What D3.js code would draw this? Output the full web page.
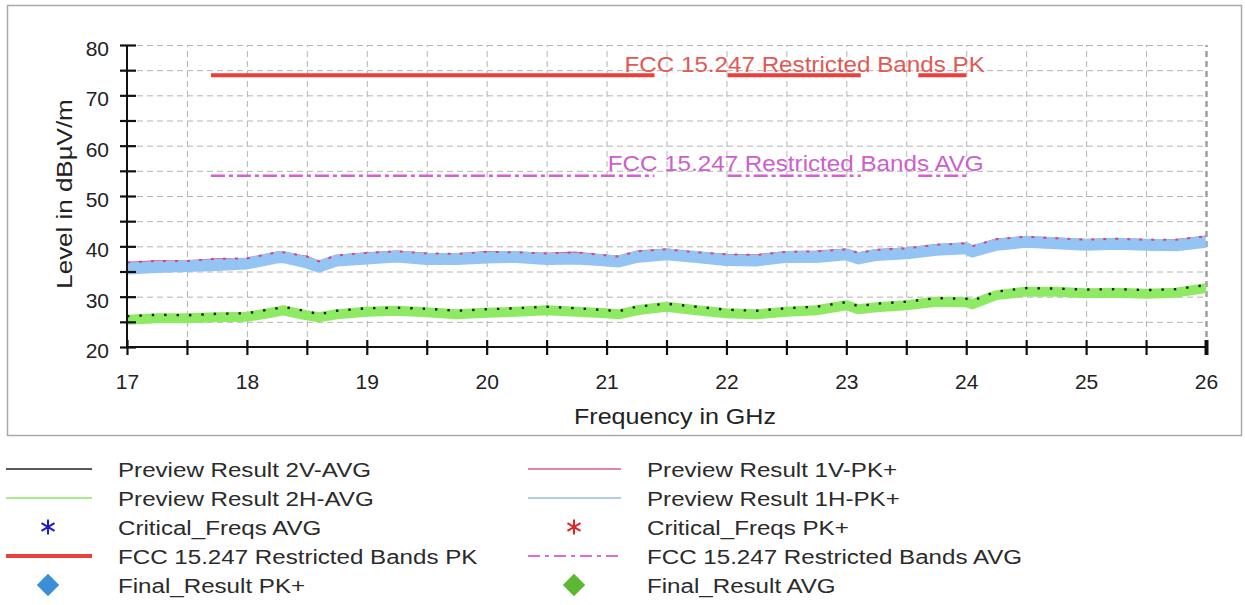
<!DOCTYPE html>
<html>
<head>
<meta charset="utf-8">
<script src="https://cdn.jsdelivr.net/npm/d3@7.9.0/dist/d3.min.js"></script>
<style>
  html, body { margin: 0; padding: 0; background: #fff; }
  svg { display: block; font-family: "Liberation Sans", Arial, sans-serif; }
</style>
</head>
<body>
<svg id="chart" width="1245" height="605"></svg>
<script>
const freqs = [17.0, 17.25, 17.5, 17.75, 18.0, 18.25, 18.3, 18.5, 18.6, 18.75,
  19.0, 19.25, 19.5, 19.75, 20.0, 20.25, 20.5, 20.75, 21.0, 21.1,
  21.25, 21.5, 21.75, 22.0, 22.25, 22.5, 22.75, 23.0, 23.1, 23.25,
  23.5, 23.75, 24.0, 24.05, 24.25, 24.5, 24.75, 25.0, 25.25, 25.5,
  25.75, 26.0];

// Preview Result 1H-PK+ (blue band)
const pk1H = [35.6, 35.9, 36.1, 36.3, 36.6, 37.8, 37.9, 36.8, 36.0, 37.2,
  37.6, 38.0, 37.5, 37.5, 37.8, 37.9, 37.5, 37.6, 37.2, 37.0,
  37.9, 38.4, 37.9, 37.3, 37.2, 37.9, 37.9, 38.4, 37.6, 38.3,
  38.6, 39.3, 39.6, 39.0, 40.3, 40.9, 40.6, 40.3, 40.5, 40.3,
  40.2, 40.9];

// Preview Result 1V-PK+ (pink)
const pk1V = [36.8, 37.1, 37.1, 37.5, 37.6, 38.8, 38.8, 38.0, 37.0, 38.2,
  38.7, 39.0, 38.6, 38.5, 38.9, 38.8, 38.6, 38.8, 38.2, 38.0,
  39.0, 39.4, 38.8, 38.4, 38.3, 38.9, 39.0, 39.4, 38.7, 39.3,
  39.6, 40.3, 40.6, 40.0, 41.4, 41.9, 41.6, 41.3, 41.5, 41.3,
  41.3, 42.0];

// Preview Result 2H-AVG (green band)
const avg2H = [25.4, 25.7, 25.7, 25.9, 26.0, 27.0, 27.3, 26.3, 25.9, 26.5,
  27.0, 27.2, 26.9, 26.5, 26.8, 27.0, 27.3, 27.0, 26.7, 26.5,
  27.3, 28.0, 27.3, 26.7, 26.5, 27.0, 27.3, 28.3, 27.5, 27.9,
  28.3, 29.0, 28.9, 28.5, 30.3, 31.0, 31.0, 30.7, 30.8, 30.6,
  30.8, 31.7];

// Preview Result 2V-AVG (black)
const avg2V = [26.1, 26.4, 26.3, 26.6, 26.7, 27.7, 28.0, 27.1, 26.5, 27.2,
  27.7, 27.8, 27.6, 27.2, 27.5, 27.7, 28.0, 27.7, 27.3, 27.1,
  28.0, 28.6, 28.0, 27.4, 27.2, 27.7, 28.0, 28.9, 28.1, 28.6,
  29.0, 29.7, 29.6, 29.2, 31.0, 31.7, 31.6, 31.4, 31.5, 31.3,
  31.5, 32.3];

// FCC 15.247 restricted bands (GHz) and limits (dBµV/m)
const bandStart = [17.7, 22.01, 23.6];
const bandEnd = [21.4, 23.12, 24.0];
const pkLimit = 74;
const avgLimit = 54;

const yTicks = [20, 25, 30, 35, 40, 45, 50, 55, 60, 65, 70, 75, 80];
const xTicks = [17, 17.5, 18, 18.5, 19, 19.5, 20, 20.5, 21, 21.5, 22, 22.5,
  23, 23.5, 24, 24.5, 25, 25.5, 26];

const legendLeft = ['Preview Result 2V-AVG', 'Preview Result 2H-AVG', 'Critical_Freqs AVG',
  'FCC 15.247 Restricted Bands PK', 'Final_Result PK+'];
const legendRight = ['Preview Result 1V-PK+', 'Preview Result 1H-PK+', 'Critical_Freqs PK+',
  'FCC 15.247 Restricted Bands AVG', 'Final_Result AVG'];

const svg = d3.select('#chart');

const x = d3.scaleLinear().domain([17, 26]).range([127, 1206]);
const y = d3.scaleLinear().domain([20, 80]).range([347, 45]);
const plotW = x.range()[1] - x.range()[0];
const plotH = y.range()[0] - y.range()[1];

// slightly wide text, like the original
function wideText(parent, px, py, txt, size, anchor, color, sx, rot) {
  const g = parent.append('g')
    .attr('transform', `translate(${px},${py}) rotate(${rot || 0}) scale(${sx},1)`);
  g.append('text')
    .attr('text-anchor', anchor)
    .attr('font-size', size)
    .attr('fill', color)
    .text(txt);
  return g;
}

// panel border
svg.append('rect')
  .attr('x', 7.5).attr('y', 5.5)
  .attr('width', 1234).attr('height', 430)
  .attr('fill', 'none')
  .attr('stroke', '#a9a9a9')
  .attr('stroke-width', 1.5);

// grid
const gridY = svg.append('g')
  .attr('transform', `translate(${x(17)},0)`)
  .call(d3.axisLeft(y).tickValues(yTicks.slice(1)).tickSize(-plotW).tickFormat(''));
const gridX = svg.append('g')
  .attr('transform', `translate(0,${y(20)})`)
  .call(d3.axisBottom(x).tickValues(xTicks.slice(1)).tickSize(-plotH).tickFormat(''));
[gridY, gridX].forEach(g => {
  g.select('.domain').remove();
  g.selectAll('line')
    .attr('stroke', '#b4b4b4')
    .attr('stroke-width', 1)
    .attr('stroke-dasharray', '6,4');
});
gridX.selectAll('.tick').filter(d => d === 26).select('line')
  .attr('stroke-width', 2.5).attr('stroke', '#a0a0a0');

// traces
const line = d3.line()
  .x((d, i) => x(freqs[i]))
  .y(d => y(d))
  .curve(d3.curveLinear);

const traces = svg.append('g').attr('fill', 'none')
  .attr('stroke-linejoin', 'round').attr('stroke-linecap', 'butt');

traces.append('path').attr('d', line(pk1V))
  .attr('stroke', '#d9437f').attr('stroke-width', 1.5);
traces.append('path').attr('d', line(pk1H))
  .attr('stroke', '#93c4f3').attr('stroke-width', 12);
traces.append('path').attr('d', line(pk1V))
  .attr('stroke', '#d9437f').attr('stroke-width', 2)
  .attr('stroke-dasharray', '3,9');
traces.append('path').attr('d', line(avg2H))
  .attr('stroke', '#8eea62').attr('stroke-width', 10);
traces.append('path').attr('d', line(avg2V))
  .attr('stroke', '#1a1a1a').attr('stroke-width', 2.4)
  .attr('stroke-dasharray', '2.4,10');

// limit lines
const limits = svg.append('g');
bandStart.forEach((s, i) => {
  limits.append('line')
    .attr('x1', x(s)).attr('x2', x(bandEnd[i]))
    .attr('y1', y(pkLimit)).attr('y2', y(pkLimit))
    .attr('stroke', '#ea3f3a').attr('stroke-width', 4);
  limits.append('line')
    .attr('x1', x(s)).attr('x2', x(bandEnd[i]))
    .attr('y1', y(avgLimit)).attr('y2', y(avgLimit))
    .attr('stroke', '#d65ed2').attr('stroke-width', 2.5)
    .attr('stroke-dasharray', '14,4,4,4');
});
wideText(svg, x(21.15), y(pkLimit) - 3, 'FCC 15.247 Restricted Bands PK', 22, 'start', '#e05a55', 1.10);
wideText(svg, x(21.01), y(avgLimit) - 5, 'FCC 15.247 Restricted Bands AVG', 22, 'start', '#cc5fcc', 1.10);

// axes
const yAxis = svg.append('g')
  .attr('transform', `translate(${x(17)},0)`)
  .call(d3.axisLeft(y).tickValues(yTicks).tickSize(6).tickPadding(12)
    .tickFormat(d => d % 10 === 0 ? d : ''));
yAxis.select('.domain').attr('stroke', '#111').attr('stroke-width', 2).attr('d', `M0,${y(80)}V${y(20)}`);
yAxis.selectAll('.tick line').attr('x1', 9).attr('x2', -7).attr('stroke', '#111').attr('stroke-width', 2.2);
yAxis.selectAll('.tick text').attr('font-size', 21).attr('fill', '#222')
  .attr('font-family', '"Liberation Sans", Arial, sans-serif').attr('dy', '0.5em');

const xAxis = svg.append('g')
  .attr('transform', `translate(0,${y(20)})`)
  .call(d3.axisBottom(x).tickValues(xTicks).tickSize(8).tickPadding(19)
    .tickFormat(d => Number.isInteger(d) ? d : ''));
xAxis.select('.domain').attr('stroke', '#111').attr('stroke-width', 2).attr('d', `M${x(17)},0H${x(26)}`);
xAxis.selectAll('.tick line').attr('y1', -7).attr('y2', 8).attr('stroke', '#111').attr('stroke-width', 2.2);
xAxis.selectAll('.tick').filter(d => d === 26).select('line').attr('stroke-width', 4);
xAxis.selectAll('.tick text').attr('font-size', 21).attr('fill', '#222')
  .attr('font-family', '"Liberation Sans", Arial, sans-serif');

// axis titles
wideText(svg, 72, 194, 'Level in dBµV/m', 22, 'middle', '#222', 1.18, -90);
wideText(svg, 675, 424, 'Frequency in GHz', 22, 'middle', '#222', 1.14);

// legend
const legend = svg.append('g');
const rowY = i => 469 + i * 29;
const diamond = d3.symbol().type(d3.symbolSquare).size(250);
const star = d3.symbol().type(d3.symbolAsterisk).size(160);

function legendMark(g, kind, cx, x0, x1, cy) {
  if (kind.line) {
    g.append('line').attr('x1', x0).attr('x2', x1).attr('y1', cy).attr('y2', cy)
      .attr('stroke', kind.color).attr('stroke-width', kind.width)
      .attr('stroke-dasharray', kind.dash || null);
  } else if (kind.star) {
    g.append('path').attr('d', star()).attr('transform', `translate(${cx},${cy})`)
      .attr('fill', 'none').attr('stroke', kind.color).attr('stroke-width', 2);
  } else {
    g.append('path').attr('d', diamond()).attr('transform', `translate(${cx},${cy}) rotate(45)`)
      .attr('fill', kind.color);
  }
}

const leftMarks = [
  { line: true, color: '#222', width: 1.5 },
  { line: true, color: '#8ee46a', width: 1.5 },
  { star: true, color: '#1c1cc8' },
  { line: true, color: '#ea3f3a', width: 4 },
  { color: '#3b8fd8' }
];
const rightMarks = [
  { line: true, color: '#dd5a8a', width: 1.5 },
  { line: true, color: '#97bde2', width: 1.5 },
  { star: true, color: '#e52222' },
  { line: true, color: '#d76fd3', width: 2, dash: '12,5,4,5' },
  { color: '#5cb833' }
];

legendLeft.forEach((name, i) => {
  legendMark(legend, leftMarks[i], 48, 6, 92, rowY(i));
  wideText(legend, 118, rowY(i) + 8, name, 21, 'start', '#2b2b2b', 1.15);
});
legendRight.forEach((name, i) => {
  legendMark(legend, rightMarks[i], 574, 528, 621, rowY(i));
  wideText(legend, 647, rowY(i) + 8, name, 21, 'start', '#2b2b2b', 1.15);
});
</script>
</body>
</html>
